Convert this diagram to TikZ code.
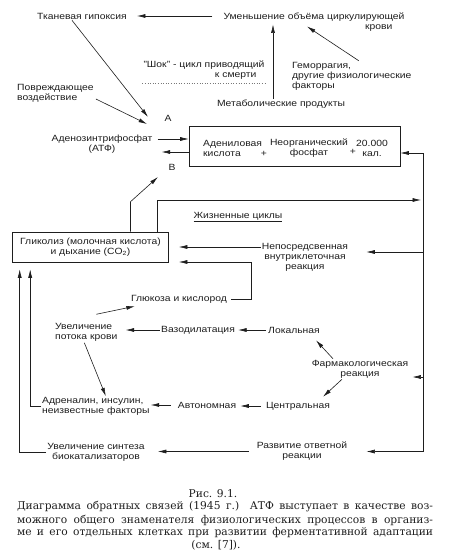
\documentclass[tikz,border=0pt]{standalone}
\usepackage{fontspec}
\setmainfont{Liberation Sans}[FakeStretch=1.15]
\newfontfamily\capfont{DejaVu Serif}
\usetikzlibrary{arrows.meta}
\definecolor{ink}{HTML}{1E1E1E}
\newcommand\dfont{\fontsize{9}{10}\selectfont}
\newcommand\cfont{\capfont\fontsize{10.7}{12}\selectfont}
\begin{document}
\begin{tikzpicture}[x=1pt,y=-1pt,
  every node/.style={inner sep=1pt, text=ink, font=\dfont},
  arr/.style={line width=0.6pt, draw=ink, -{Latex[length=8.5pt,width=4pt]}},
  ln/.style={line width=0.6pt, draw=ink},
  captxt/.style={font=\cfont, inner sep=0pt}]
\useasboundingbox[fill=white] (0,0) rectangle (452,560);

% ---- nodes ----
\node (tkan) at (82,16) {Тканевая гипоксия};
\node[align=right] (umen) at (314,22) {Уменьшение объёма циркулирующей\\крови\hspace*{12pt}};
\node[align=right] (shock) at (204,70) {"Шок" - цикл приводящий\\к смерти\hspace*{8pt}};
\node[align=left, anchor=west] (gemo) at (291,76) {Геморрагия,\\другие физиологические\\факторы};
\node[align=left, anchor=west] (povr) at (16,93) {Повреждающее\\воздействие};
\node (metab) at (281,104) {Метаболические продукты};
\node (Alab) at (168,118) {А};
\node (Blab) at (172,167) {В};
\node[align=center] (atf) at (102,144.5) {Аденозинтрифосфат\\(АТФ)};
\node[draw=ink, line width=0.6pt, minimum width=211pt, minimum height=40pt, inner sep=0pt] (box) at (294.5,146) {};
\node[align=left, anchor=west] (aden) at (202,148) {Адениловая\\кислота};
\node (p1) at (264,154) {+};
\node[align=center] (neor) at (309,148) {Неорганический\\фосфат};
\node (p2) at (353,152) {+};
\node[align=center] (kcal) at (372,148) {20.000\\кал.};
\node (zhizn) at (238,217) {\underline{Жизненные циклы}};
\node[draw=ink, line width=0.6pt, minimum width=156pt, minimum height=30pt, align=center, inner sep=0pt] (glyc) at (90.5,247) {Гликолиз (молочная кислота)\\и дыхание (CO\textsubscript{2})};
\node[align=center] (nepo) at (305,257) {Непосредсвенная\\внутриклеточная\\реакция};
\node (gluk) at (179,299) {Глюкоза и кислород};
\node[align=left, anchor=west] (uvel) at (54,332.5) {Увеличение\\потока крови};
\node (vazo) at (198,330) {Вазодилатация};
\node (lokal) at (294,330) {Локальная};
\node[align=center] (farm) at (360,369) {Фармакологическая\\реакция};
\node[align=left, anchor=west] (adren) at (41,406.5) {Адреналин, инсулин,\\неизвестные факторы};
\node (avton) at (207,405) {Автономная};
\node (centr) at (298,406) {Центральная};
\node[align=center] (sint) at (96,452.5) {Увеличение синтеза\\биокатализаторов};
\node[align=center] (razv) at (302,451.5) {Развитие ответной\\реакции};

\coordinate (Ain) at (148,117);
\coordinate (Bin) at (158,177);
\coordinate (zc) at (421,200);
\coordinate (rtop) at (423,153);
\coordinate (rbot) at (423,452);

% ---- connectors ----
\draw[arr, shorten <=10pt, shorten >=9pt] (umen.west |- tkan.east) -- (tkan.east);
\draw[arr] ([xshift=-10pt]tkan.south) -- (Ain);
\draw[arr] ([shift={(1pt,-6pt)}]povr.east) -- ([shift={(-1pt,-7pt)}]Ain);
\draw[arr, shorten >=-8pt] ([xshift=-8pt]metab.north) -- ([xshift=-8pt]metab.north |- umen.south);
\draw[arr] ([xshift=7pt]gemo.north) -- ([shift={(-7pt,6pt)}]umen.south);
\draw[dotted, ink!60, line width=0.6pt] ([yshift=-3pt]shock.south west) -- ([yshift=-3pt]shock.south east);

\draw[arr] ([shift={(4pt,5.5pt)}]atf.east) -- ([yshift=5.5pt]atf.east -| box.west);
\draw[arr] ([yshift=-7.5pt]atf.east -| box.west) -- ([shift={(8pt,-7.5pt)}]atf.east);

\draw[arr] ([xshift=40pt]glyc.north) -- ++(0,-30) -- (Bin);
\draw[arr] ([xshift=67pt]glyc.north) |- (zc);
\draw[ln] (rtop) -- (rbot);
\draw[arr] (rtop) -- (rtop -| box.east);
\draw[arr] ([yshift=5pt]nepo.east -| rtop) -- ([shift={(17pt,5pt)}]nepo.east);
\draw[arr] ([yshift=-8pt]farm.east -| rtop) -- ([shift={(3pt,-8pt)}]farm.east);
\draw[arr] (razv.east -| rtop) -- ([xshift=18pt]razv.east);

\draw[arr, shorten >=10pt] (nepo.west |- glyc.east) -- (glyc.east);
\draw[arr] ([xshift=3pt]gluk.east) -- ++(20,0) |- ([shift={(10pt,-15pt)}]glyc.east);
\draw[arr] ([shift={(10pt,8pt)}]uvel.north) -- ([shift={(5pt,-2pt)}]gluk.south west);
\draw[arr, shorten >=7pt] (vazo.west) -- (vazo.west -| uvel.east);
\draw[arr, shorten <=1pt, shorten >=2pt] (lokal.west) -- (vazo.east);
\draw[arr] ([xshift=-27pt]farm.north) -- ([shift={(22pt,-6pt)}]lokal.south);
\draw[arr] ([xshift=-18pt]farm.south) -- ([shift={(25pt,4pt)}]centr.north);
\draw[arr] ([xshift=-2pt]uvel.south) -- ([xshift=10pt]adren.north);
\draw[arr, shorten <=6pt] (avton.west) -- (avton.west -| adren.east);
\draw[arr, shorten <=4pt, shorten >=3pt] (centr.west) -- (centr.west -| avton.east);
\draw[arr, shorten <=7pt, shorten >=12pt] (razv.west) -- (razv.west -| sint.east);
\draw[arr, shorten >=7pt] (adren.west) -| ([xshift=18pt]glyc.south west);
\draw[arr, shorten >=7pt] (sint.west) -| ([xshift=7.5pt]glyc.south west);

% ---- caption ----
\node[captxt] (cap0) at (213,494) {Рис. 9.1.};
\node[captxt] (cap1) at (225,507) {\makebox[416pt][s]{Диаграмма обратных связей (1945 г.) АТФ выступает в качестве воз-}};
\node[captxt] (cap2) at (225,520) {\makebox[416pt][s]{можного общего знаменателя физиологических процессов в организ-}};
\node[captxt] (cap3) at (225,533) {\makebox[416pt][s]{ме и его отдельных клетках при развитии ферментативной адаптации}};
\node[captxt] (cap4) at (216,545) {(см. [7]).};
\end{tikzpicture}
\end{document}
